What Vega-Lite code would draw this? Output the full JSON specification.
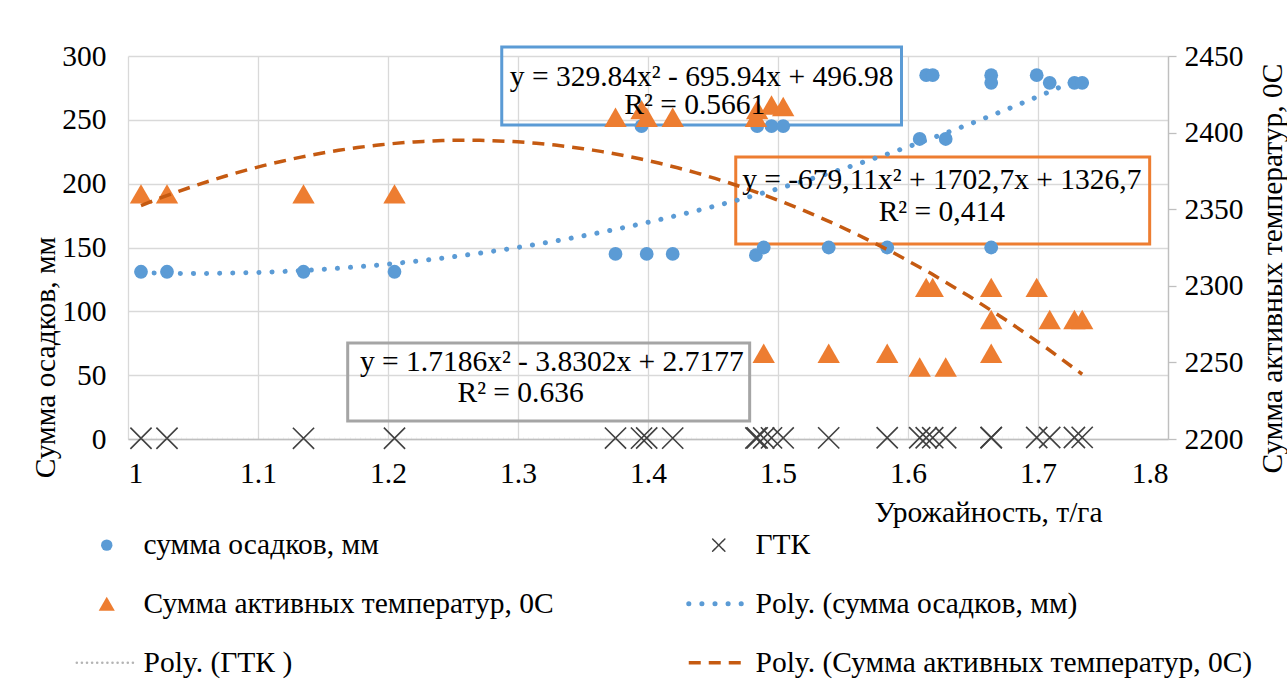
{
  "$schema": "https://vega.github.io/schema/vega-lite/v6.json",
  "autosize": {"type": "none"},
  "padding": {"left": 128, "top": 56, "right": 119, "bottom": 257},
  "width": 1040,
  "height": 383,
  "datasets": {
    "main": [
      {"x": 1.01, "p": 131, "t": 2360, "g": 0.62},
      {"x": 1.03, "p": 131, "t": 2360, "g": 0.58},
      {"x": 1.135, "p": 131, "t": 2360, "g": 0.55},
      {"x": 1.205, "p": 131, "t": 2360, "g": 0.62},
      {"x": 1.375, "p": 145, "t": 2410, "g": 0.72},
      {"x": 1.395, "p": 245, "t": 2415, "g": 0.68},
      {"x": 1.399, "p": 145, "t": 2410, "g": 0.75},
      {"x": 1.419, "p": 145, "t": 2410, "g": 0.7},
      {"x": 1.483, "p": 144, "t": 2410, "g": 0.8},
      {"x": 1.484, "p": 245, "t": 2415, "g": 0.85},
      {"x": 1.489, "p": 150, "t": 2256, "g": 0.78},
      {"x": 1.495, "p": 245, "t": 2418, "g": 0.86},
      {"x": 1.504, "p": 245, "t": 2417, "g": 0.83},
      {"x": 1.539, "p": 150, "t": 2256, "g": 0.9},
      {"x": 1.584, "p": 150, "t": 2256, "g": 0.95},
      {"x": 1.609, "p": 235, "t": 2247, "g": 1.0},
      {"x": 1.614, "p": 285, "t": 2299, "g": 0.98},
      {"x": 1.619, "p": 285, "t": 2299, "g": 1.02},
      {"x": 1.629, "p": 235, "t": 2247, "g": 1.0},
      {"x": 1.664, "p": 285, "t": 2256, "g": 1.1},
      {"x": 1.664, "p": 279, "t": 2278, "g": 1.05},
      {"x": 1.664, "p": 150, "t": 2299, "g": 1.12},
      {"x": 1.699, "p": 285, "t": 2299, "g": 1.15},
      {"x": 1.709, "p": 279, "t": 2278, "g": 1.18},
      {"x": 1.728, "p": 279, "t": 2278, "g": 1.2},
      {"x": 1.734, "p": 279, "t": 2278, "g": 1.25}
    ],
    "boxes": [
      {"box": "blue", "x1": 1.2875, "x2": 1.595, "y1": 307, "y2": 245.9},
      {"box": "orange", "x1": 1.4675, "x2": 1.7859, "y1": 220.8, "y2": 152.7},
      {"box": "gray", "x1": 1.169, "x2": 1.4782, "y1": 75.2, "y2": 14.1}
    ],
    "labels": [
      {"tx": 1.4413, "ty": 2436.3, "text": "y = 329.84x² - 695.94x + 496.98"},
      {"tx": 1.436, "ty": 2418, "text": "R² = 0.5661"},
      {"tx": 1.626, "ty": 2369, "text": "y = -679,11x² + 1702,7x + 1326,7"},
      {"tx": 1.626, "ty": 2348.2, "text": "R² = 0,414"},
      {"tx": 1.326, "ty": 2250.3, "text": "y = 1.7186x² - 3.8302x + 2.7177"},
      {"tx": 1.302, "ty": 2230, "text": "R² = 0.636"}
    ]
  },
  "layer": [
    {
      "layer": [
        {
          "data": {"name": "boxes"},
          "mark": {"type": "rect", "fillOpacity": 0, "strokeWidth": 3, "clip": false},
          "encoding": {
            "x": {"field": "x1", "type": "quantitative", "title": "Урожайность, т/га", "scale": {"domain": [1, 1.8], "nice": false, "zero": false},
              "axis": {"values": [1, 1.1, 1.2, 1.3, 1.4, 1.5, 1.6, 1.7, 1.8], "format": "~g", "title": "Урожайность, т/га", "titleX": 860, "titleY": 73, "titleAlign": "center", "titleBaseline": "middle", "grid": true, "ticks": false, "labelPadding": 20, "domain": true}},
            "x2": {"field": "x2"},
            "y": {"field": "y1", "type": "quantitative", "title": "Сумма осадков, мм", "scale": {"domain": [0, 300], "nice": false},
              "axis": {"title": "Сумма осадков, мм", "values": [0, 50, 100, 150, 200, 250, 300], "grid": true, "domain": false, "ticks": false, "labelPadding": 22, "titleX": -83, "titleY": 301, "titleAngle": 270, "titleAlign": "center", "titleBaseline": "middle"}},
            "y2": {"field": "y2"},
            "stroke": {"field": "box", "type": "nominal", "scale": {"domain": ["blue", "orange", "gray"], "range": ["#5B9BD5", "#ED7D31", "#A5A5A5"]}, "legend": null}
          }
        },
        {
          "data": {"name": "main"},
          "mark": {"type": "point", "filled": true, "opacity": 1, "size": 190},
          "encoding": {
            "x": {"field": "x", "type": "quantitative", "title": "Урожайность, т/га", "scale": {"domain": [1, 1.8], "nice": false, "zero": false}},
            "y": {"field": "p", "type": "quantitative", "title": "Сумма осадков, мм", "scale": {"domain": [0, 300], "nice": false}},
            "color": {"datum": "сумма осадков, мм"},
            "shape": {"datum": "сумма осадков, мм"}
          }
        },
        {
          "data": {"name": "main"},
          "mark": {"type": "point", "filled": false, "opacity": 1, "size": 450, "strokeWidth": 1.6},
          "encoding": {
            "x": {"field": "x", "type": "quantitative", "title": "Урожайность, т/га", "scale": {"domain": [1, 1.8], "nice": false, "zero": false}},
            "y": {"field": "g", "type": "quantitative", "title": "Сумма осадков, мм", "scale": {"domain": [0, 300], "nice": false}},
            "color": {"datum": "ГТК"},
            "shape": {"datum": "ГТК"}
          }
        },
        {
          "data": {"name": "main"},
          "transform": [{"regression": "p", "on": "x", "method": "poly", "order": 2}],
          "mark": {"type": "line", "strokeWidth": 5, "strokeCap": "round"},
          "encoding": {
            "x": {"field": "x", "type": "quantitative", "title": "Урожайность, т/га", "scale": {"domain": [1, 1.8], "nice": false, "zero": false}},
            "y": {"field": "p", "type": "quantitative", "title": "Сумма осадков, мм", "scale": {"domain": [0, 300], "nice": false}},
            "color": {"datum": "Poly. (сумма осадков, мм)"},
            "strokeDash": {"datum": "Poly. (сумма осадков, мм)"}
          }
        },
        {
          "data": {"name": "main"},
          "transform": [{"regression": "g", "on": "x", "method": "poly", "order": 2}],
          "mark": {"type": "line", "strokeWidth": 2.5},
          "encoding": {
            "x": {"field": "x", "type": "quantitative", "title": "Урожайность, т/га", "scale": {"domain": [1, 1.8], "nice": false, "zero": false}},
            "y": {"field": "g", "type": "quantitative", "title": "Сумма осадков, мм", "scale": {"domain": [0, 300], "nice": false}},
            "color": {"datum": "Poly. (ГТК )"},
            "strokeDash": {"datum": "Poly. (ГТК )"}
          }
        }
      ]
    },
    {
      "layer": [
        {
          "data": {"name": "main"},
          "mark": {"type": "point", "filled": true, "opacity": 1, "size": 500},
          "encoding": {
            "x": {"field": "x", "type": "quantitative", "title": "Урожайность, т/га", "scale": {"domain": [1, 1.8], "nice": false, "zero": false}},
            "y": {"field": "t", "type": "quantitative", "title": "Сумма активных температур, 0С", "scale": {"domain": [2200, 2450], "nice": false, "zero": false},
              "axis": {"orient": "right", "title": "Сумма активных температур, 0С", "values": [2200, 2250, 2300, 2350, 2400, 2450], "format": "d", "grid": false, "domain": true, "ticks": true, "tickColor": "#BFBFBF", "tickSize": 8, "tickWidth": 1.3, "labelPadding": 8, "titleX": 104, "titleY": 212, "titleAngle": 270, "titleAlign": "center", "titleBaseline": "middle"}},
            "color": {"datum": "Сумма активных температур, 0С"},
            "shape": {"datum": "Сумма активных температур, 0С"}
          }
        },
        {
          "data": {"name": "main"},
          "transform": [{"regression": "t", "on": "x", "method": "poly", "order": 2}],
          "mark": {"type": "line", "strokeWidth": 3.5},
          "encoding": {
            "x": {"field": "x", "type": "quantitative", "title": "Урожайность, т/га", "scale": {"domain": [1, 1.8], "nice": false, "zero": false}},
            "y": {"field": "t", "type": "quantitative", "title": "Сумма активных температур, 0С", "scale": {"domain": [2200, 2450], "nice": false, "zero": false}},
            "color": {"datum": "Poly. (Сумма активных температур, 0С)"},
            "strokeDash": {"datum": "Poly. (Сумма активных температур, 0С)"}
          }
        },
        {
          "data": {"name": "labels"},
          "mark": {"type": "text", "font": "Liberation Serif, Times New Roman, serif", "fontSize": 29.5, "color": "#000", "align": "center", "baseline": "middle", "clip": false},
          "encoding": {
            "x": {"field": "tx", "type": "quantitative", "title": "Урожайность, т/га", "scale": {"domain": [1, 1.8], "nice": false, "zero": false}},
            "y": {"field": "ty", "type": "quantitative", "title": "Сумма активных температур, 0С", "scale": {"domain": [2200, 2450], "nice": false, "zero": false}},
            "text": {"field": "text"}
          }
        }
      ]
    }
  ],
  "resolve": {"scale": {"y": "independent"}},
  "encoding": {
    "color": {
      "scale": {
        "domain": ["сумма осадков, мм", "ГТК", "Сумма активных температур, 0С", "Poly. (сумма осадков, мм)", "Poly. (ГТК )", "Poly. (Сумма активных температур, 0С)"],
        "range": ["#5B9BD5", "#404040", "#ED7D31", "#5B9BD5", "#B4B4B4", "#C55A11"]
      },
      "legend": {
        "orient": "none", "legendX": -36, "legendY": 474, "columns": 2, "direction": "horizontal", "columnPadding": 124, "rowPadding": 28,
        "symbolSize": 3600, "symbolType": "stroke", "labelFont": "Liberation Serif, Times New Roman, serif", "labelFontSize": 29.5, "labelColor": "#000",
        "labelLimit": 800, "labelOffset": 22, "title": null, "padding": 0,
        "encode": {
          "symbols": {
            "update": {
              "shape": {"scale": "shape", "field": "value"},
              "strokeDash": {"scale": "strokeDash", "field": "value"},
              "fill": {"signal": "(datum.value == 'сумма осадков, мм' || datum.value == 'Сумма активных температур, 0С') ? scale('color', datum.value) : 'transparent'"},
              "stroke": {"scale": "color", "field": "value"},
              "size": {"signal": "datum.value == 'сумма осадков, мм' ? 130 : datum.value == 'ГТК' ? 150 : datum.value == 'Сумма активных температур, 0С' ? 260 : 3600"},
              "strokeWidth": {"signal": "datum.value == 'ГТК' ? 1.5 : datum.value == 'Poly. (сумма осадков, мм)' ? 5 : datum.value == 'Poly. (ГТК )' ? 2.5 : datum.value == 'Poly. (Сумма активных температур, 0С)' ? 3.5 : 0"},
              "strokeCap": {"signal": "datum.value == 'Poly. (Сумма активных температур, 0С)' ? 'butt' : 'round'"},
              "opacity": {"value": 1}
            }
          }
        }
      }
    },
    "shape": {
      "scale": {
        "domain": ["сумма осадков, мм", "ГТК", "Сумма активных температур, 0С", "Poly. (сумма осадков, мм)", "Poly. (ГТК )", "Poly. (Сумма активных температур, 0С)"],
        "range": ["circle", "M-1,-1L1,1M1,-1L-1,1", "triangle-up", "stroke", "stroke", "stroke"]
      },
      "legend": null
    },
    "strokeDash": {
      "scale": {
        "domain": ["сумма осадков, мм", "ГТК", "Сумма активных температур, 0С", "Poly. (сумма осадков, мм)", "Poly. (ГТК )", "Poly. (Сумма активных температур, 0С)"],
        "range": [[1, 0], [1, 0], [1, 0], [0.1, 13], [0.1, 5], [12, 8]]
      },
      "legend": null
    }
  },
  "config": {
    "view": {"stroke": null},
    "font": "Liberation Serif, Times New Roman, serif",
    "axis": {
      "labelFont": "Liberation Serif, Times New Roman, serif", "labelFontSize": 29.5, "labelColor": "#000",
      "titleFont": "Liberation Serif, Times New Roman, serif", "titleFontSize": 29.5, "titleFontWeight": "normal", "titleColor": "#000",
      "gridColor": "#D9D9D9", "gridWidth": 1.3, "domainColor": "#BFBFBF", "domainWidth": 1.3
    }
  }
}
